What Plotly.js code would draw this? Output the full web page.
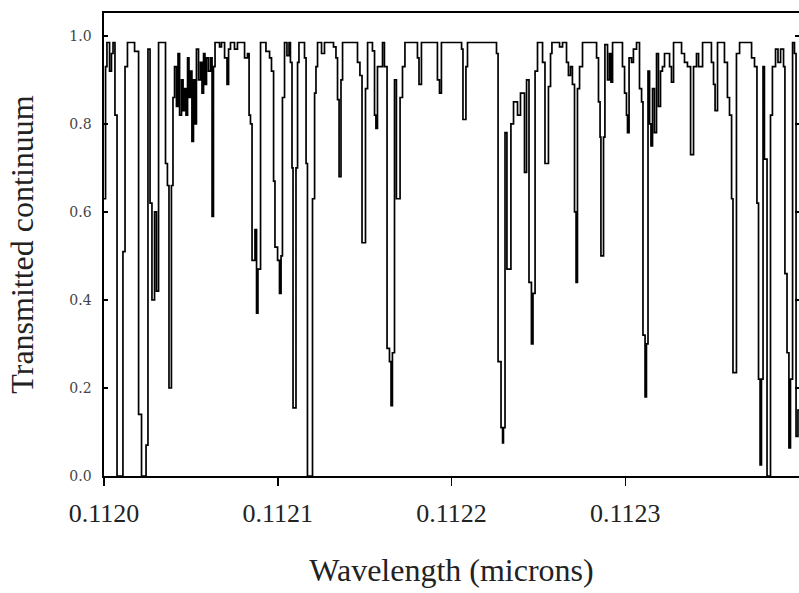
<!DOCTYPE html>
<html>
<head>
<meta charset="utf-8">
<script src="https://cdn.plot.ly/plotly-3.0.1.min.js"></script>
<style>
  html, body { margin: 0; padding: 0; background: #ffffff; }
  #chart { width: 799px; height: 593px; }
</style>
</head>
<body>
<div id="chart"></div>
<script>
// Wavelength (microns) at which each step of the transmitted-continuum spectrum begins
const wavelength = [
  0.1120000, 0.1120009, 0.1120017, 0.1120032, 0.1120043, 0.1120052, 0.1120063, 0.1120075, 0.1120109, 0.1120121,
  0.1120135, 0.1120176, 0.1120199, 0.1120216, 0.1120242, 0.1120253, 0.1120265, 0.1120276, 0.1120291, 0.1120302,
  0.1120314, 0.1120354, 0.1120365, 0.1120374, 0.1120388, 0.1120397, 0.1120406, 0.1120417, 0.1120426, 0.1120435,
  0.1120446, 0.1120455, 0.1120463, 0.1120472, 0.1120481, 0.1120489, 0.1120498, 0.1120506, 0.1120515, 0.1120524,
  0.1120532, 0.1120544, 0.1120555, 0.1120564, 0.1120573, 0.1120581, 0.1120590, 0.1120601, 0.1120613, 0.1120622,
  0.1120630, 0.1120639, 0.1120665, 0.1120676, 0.1120694, 0.1120708, 0.1120717, 0.1120728, 0.1120751, 0.1120768,
  0.1120809, 0.1120826, 0.1120835, 0.1120843, 0.1120852, 0.1120869, 0.1120878, 0.1120886, 0.1120901, 0.1120932,
  0.1120953, 0.1120964, 0.1120976, 0.1120984, 0.1120999, 0.1121010, 0.1121019, 0.1121027, 0.1121039, 0.1121053,
  0.1121065, 0.1121073, 0.1121082, 0.1121088, 0.1121105, 0.1121114, 0.1121122, 0.1121154, 0.1121163, 0.1121171,
  0.1121200, 0.1121212, 0.1121220, 0.1121229, 0.1121252, 0.1121269, 0.1121321, 0.1121335, 0.1121344, 0.1121353,
  0.1121364, 0.1121373, 0.1121459, 0.1121473, 0.1121485, 0.1121505, 0.1121517, 0.1121545, 0.1121557, 0.1121565,
  0.1121574, 0.1121603, 0.1121614, 0.1121629, 0.1121643, 0.1121652, 0.1121660, 0.1121672, 0.1121683, 0.1121704,
  0.1121718, 0.1121732, 0.1121804, 0.1121813, 0.1121827, 0.1121919, 0.1121931, 0.1121942, 0.1122058, 0.1122066,
  0.1122083, 0.1122092, 0.1122259, 0.1122268, 0.1122285, 0.1122294, 0.1122299, 0.1122308, 0.1122319, 0.1122342,
  0.1122357, 0.1122380, 0.1122397, 0.1122420, 0.1122432, 0.1122446, 0.1122460, 0.1122469, 0.1122481, 0.1122495,
  0.1122524, 0.1122538, 0.1122558, 0.1122570, 0.1122578, 0.1122622, 0.1122639, 0.1122662, 0.1122673, 0.1122685,
  0.1122696, 0.1122708, 0.1122717, 0.1122725, 0.1122737, 0.1122754, 0.1122835, 0.1122846, 0.1122855, 0.1122860,
  0.1122875, 0.1122883, 0.1122898, 0.1122909, 0.1122918, 0.1122927, 0.1122984, 0.1122996, 0.1123007, 0.1123013,
  0.1123022, 0.1123036, 0.1123047, 0.1123065, 0.1123082, 0.1123094, 0.1123102, 0.1123114, 0.1123122, 0.1123131,
  0.1123140, 0.1123148, 0.1123157, 0.1123168, 0.1123180, 0.1123191, 0.1123203, 0.1123214, 0.1123226, 0.1123255,
  0.1123266, 0.1123278, 0.1123324, 0.1123341, 0.1123358, 0.1123376, 0.1123393, 0.1123410, 0.1123422, 0.1123445,
  0.1123496, 0.1123508, 0.1123517, 0.1123531, 0.1123571, 0.1123588, 0.1123600, 0.1123612, 0.1123620, 0.1123640,
  0.1123658, 0.1123727, 0.1123744, 0.1123758, 0.1123767, 0.1123776, 0.1123784, 0.1123793, 0.1123801, 0.1123816,
  0.1123836, 0.1123847, 0.1123865, 0.1123879, 0.1123894, 0.1123911, 0.1123919, 0.1123931, 0.1123942, 0.1123951,
  0.1123963, 0.1123974, 0.1123983, 0.1123994, 0.1124000
];

// Transmitted continuum level held from each wavelength above to the next
const transmitted = [
  0.63, 0.93, 0.985, 0.92, 0.96, 0.985, 0.82, 0.0, 0.51, 0.93,
  0.985, 0.965, 0.14, 0.0, 0.07, 0.97, 0.62, 0.40, 0.60, 0.42,
  0.985, 0.71, 0.66, 0.20, 0.66, 0.86, 0.93, 0.84, 0.96, 0.82,
  0.90, 0.83, 0.88, 0.82, 0.95, 0.86, 0.92, 0.76, 0.90, 0.80,
  0.97, 0.90, 0.94, 0.87, 0.96, 0.89, 0.95, 0.92, 0.95, 0.59,
  0.93, 0.985, 0.975, 0.985, 0.95, 0.89, 0.97, 0.985, 0.97, 0.985,
  0.95, 0.96, 0.82, 0.80, 0.49, 0.56, 0.37, 0.47, 0.985, 0.965,
  0.95, 0.92, 0.67, 0.52, 0.49, 0.415, 0.50, 0.86, 0.985, 0.955,
  0.985, 0.94, 0.70, 0.155, 0.70, 0.94, 0.985, 0.95, 0.71, 0.0,
  0.63, 0.87, 0.93, 0.985, 0.96, 0.985, 0.975, 0.95, 0.855, 0.68,
  0.90, 0.985, 0.94, 0.91, 0.53, 0.88, 0.985, 0.966, 0.82, 0.79,
  0.93, 0.985, 0.93, 0.29, 0.26, 0.16, 0.28, 0.90, 0.63, 0.86,
  0.93, 0.985, 0.95, 0.89, 0.985, 0.90, 0.87, 0.985, 0.97, 0.81,
  0.93, 0.985, 0.96, 0.26, 0.11, 0.075, 0.11, 0.78, 0.47, 0.80,
  0.85, 0.82, 0.87, 0.69, 0.90, 0.44, 0.30, 0.415, 0.92, 0.985,
  0.94, 0.71, 0.885, 0.96, 0.985, 0.975, 0.985, 0.94, 0.91, 0.93,
  0.89, 0.60, 0.44, 0.88, 0.93, 0.985, 0.95, 0.85, 0.77, 0.50,
  0.77, 0.98, 0.90, 0.96, 0.895, 0.985, 0.93, 0.87, 0.82, 0.78,
  0.95, 0.94, 0.97, 0.985, 0.88, 0.85, 0.32, 0.18, 0.30, 0.92,
  0.80, 0.75, 0.88, 0.78, 0.96, 0.84, 0.92, 0.93, 0.96, 0.93,
  0.895, 0.985, 0.96, 0.94, 0.93, 0.73, 0.93, 0.96, 0.93, 0.985,
  0.94, 0.89, 0.83, 0.985, 0.94, 0.86, 0.82, 0.63, 0.235, 0.96,
  0.985, 0.95, 0.93, 0.62, 0.22, 0.025, 0.22, 0.93, 0.72, 0.0,
  0.82, 0.93, 0.97, 0.94, 0.97, 0.93, 0.46, 0.28, 0.064, 0.22,
  0.985, 0.96, 0.09, 0.15, 0.15
];

const xTickValues = [0.1120, 0.1121, 0.1122, 0.1123];
const xTickLabels = ['0.1120', '0.1121', '0.1122', '0.1123'];
const yTickValues = [0.0, 0.2, 0.4, 0.6, 0.8, 1.0];
const yTickLabels = ['0.0', '0.2', '0.4', '0.6', '0.8', '1.0'];

const serif = 'Liberation Serif, Times New Roman, serif';

const trace = {
  type: 'scatter',
  mode: 'lines',
  x: wavelength,
  y: transmitted,
  line: { shape: 'hv', color: '#000000', width: 1.7 },
  hoverinfo: 'x+y',
  showlegend: false
};

const layout = {
  width: 799,
  height: 593,
  margin: { l: 104, r: 0, t: 13, b: 117, pad: 0 },
  paper_bgcolor: '#ffffff',
  plot_bgcolor: '#ffffff',
  showlegend: false,
  xaxis: {
    range: [0.1120, 0.1124],
    tickvals: xTickValues,
    ticktext: xTickLabels,
    ticks: 'outside',
    ticklen: 8,
    tickwidth: 1.5,
    tickcolor: '#000',
    showline: true,
    linecolor: '#000',
    linewidth: 1.6,
    mirror: true,
    showgrid: false,
    zeroline: false,
    tickfont: { family: serif, size: 26, color: '#222' },
    ticklabelstandoff: 5,
    title: { text: 'Wavelength (microns)', font: { family: serif, size: 32, color: '#222' }, standoff: 32 }
  },
  yaxis: {
    range: [0, 1.052],
    tickvals: yTickValues,
    ticktext: yTickLabels,
    ticks: 'inside',
    ticklen: 4,
    tickwidth: 1.5,
    tickcolor: '#000',
    showline: true,
    linecolor: '#000',
    linewidth: 1.6,
    mirror: 'ticks',
    showgrid: false,
    zeroline: false,
    tickfont: { family: 'DejaVu Serif, serif', size: 14, color: '#444' },
    ticklabelstandoff: 8,
    title: { text: 'Transmitted continuum', font: { family: serif, size: 32, color: '#222' }, standoff: 26 }
  }
};

Plotly.newPlot('chart', [trace], layout, { displayModeBar: false, staticPlot: true });
</script>
</body>
</html>
